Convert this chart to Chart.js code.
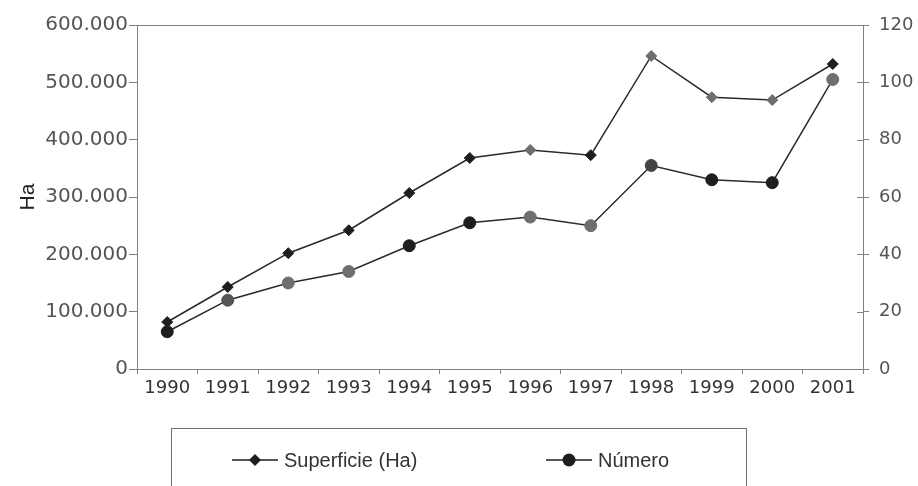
<!DOCTYPE html>
<html>
<head>
<meta charset="utf-8">
<script src="https://cdn.jsdelivr.net/npm/chart.js"></script>
<style>
  html, body { margin: 0; padding: 0; background: #fff; }
  #wrap { width: 918px; height: 486px; }
</style>
</head>
<body>
<div id="wrap"><canvas id="chart" width="918" height="486"></canvas></div>
<script>
// data
const years = ['1990', '1991', '1992', '1993', '1994', '1995', '1996', '1997', '1998', '1999', '2000', '2001'];
const superficie = [82000, 143000, 202000, 242000, 307000, 368000, 382000, 373000, 546000, 474000, 469000, 532000];
const numero = [13, 24, 30, 34, 43, 51, 53, 50, 71, 66, 65, 101];
const seriesNames = ['Superficie (Ha)', 'Número'];

// scan look: some markers print lighter
const dark = '#1e1e1e';
const grey = '#6e6e6e';
const supColors = [dark, dark, dark, dark, dark, dark, grey, dark, grey, grey, grey, dark];
const numColors = [dark, '#555', grey, grey, dark, dark, grey, grey, '#444', dark, dark, grey];

const axisColor = '#808080';
const tickFont = { family: 'DejaVu Sans', size: 18 };

function fmt(v) {
    return String(v).replace(/\B(?=(\d{3})+(?!\d))/g, '.');
}

// frame top line + small inner ticks on the right axis
const framePlugin = {
    id: 'frame',
    afterDraw(chart) {
        const { ctx, chartArea } = chart;
        ctx.save();
        ctx.strokeStyle = axisColor;
        ctx.lineWidth = 1;
        ctx.beginPath();
        ctx.moveTo(chartArea.left, chartArea.top + 0.5);
        ctx.lineTo(chartArea.right, chartArea.top + 0.5);
        const y2 = chart.scales.y2;
        y2.ticks.forEach(t => {
            const py = Math.round(y2.getPixelForValue(t.value)) + 0.5;
            ctx.moveTo(chartArea.right - 6, py);
            ctx.lineTo(chartArea.right, py);
        });
        ctx.stroke();
        ctx.restore();
    }
};

// boxed legend under the plot
const legendBox = { left: 171, top: 428, right: 746 };
const legendItemX = [232, 546];
const legendY = 460;

function marker(ctx, style, x, y, r, color) {
    ctx.fillStyle = color;
    ctx.beginPath();
    if (style === 'rectRot') {
        ctx.moveTo(x, y - r);
        ctx.lineTo(x + r, y);
        ctx.lineTo(x, y + r);
        ctx.lineTo(x - r, y);
        ctx.closePath();
    } else {
        ctx.arc(x, y, r, 0, Math.PI * 2);
    }
    ctx.fill();
}

const legendPlugin = {
    id: 'boxLegend',
    afterDraw(chart) {
        const ctx = chart.ctx;
        ctx.save();
        ctx.strokeStyle = '#707070';
        ctx.lineWidth = 1;
        ctx.strokeRect(legendBox.left + 0.5, legendBox.top + 0.5, legendBox.right - legendBox.left, 80);
        chart.data.datasets.forEach((ds, i) => {
            const x = legendItemX[i];
            ctx.strokeStyle = dark;
            ctx.lineWidth = 1.5;
            ctx.beginPath();
            ctx.moveTo(x, legendY);
            ctx.lineTo(x + 46, legendY);
            ctx.stroke();
            marker(ctx, ds.pointStyle, x + 23, legendY, ds.pointStyle === 'rectRot' ? 6 : 6.5, dark);
            ctx.fillStyle = '#333';
            ctx.font = '20px "Liberation Sans"';
            ctx.textBaseline = 'middle';
            ctx.fillText(ds.label, x + 52, legendY + 1);
        });
        ctx.restore();
    }
};

new Chart(document.getElementById('chart'), {
    type: 'line',
    data: {
        labels: years,
        datasets: [
            {
                label: seriesNames[0],
                data: superficie,
                yAxisID: 'y',
                borderColor: '#2a2a2a',
                borderWidth: 1.5,
                pointStyle: 'rectRot',
                pointRadius: 5.5,
                pointBackgroundColor: supColors,
                pointBorderColor: supColors,
                pointBorderWidth: 1,
                tension: 0
            },
            {
                label: seriesNames[1],
                data: numero,
                yAxisID: 'y2',
                borderColor: '#2a2a2a',
                borderWidth: 1.5,
                pointStyle: 'circle',
                pointRadius: 6,
                pointBackgroundColor: numColors,
                pointBorderColor: numColors,
                pointBorderWidth: 1,
                tension: 0
            }
        ]
    },
    options: {
        responsive: false,
        animation: false,
        layout: { padding: { top: 25, bottom: 77, left: 0, right: 0 } },
        plugins: {
            legend: { display: false },
            tooltip: { enabled: false }
        },
        scales: {
            x: {
                offset: true,
                grid: { offset: true, drawOnChartArea: false, tickLength: 5, color: axisColor },
                border: { color: axisColor },
                ticks: { color: '#333', font: tickFont, padding: 4, maxRotation: 0, autoSkip: false },
                afterFit: s => { s.height = 40; }
            },
            y: {
                position: 'left',
                min: 0,
                max: 600000,
                grid: { drawOnChartArea: false, tickLength: 8, color: axisColor },
                border: { color: axisColor },
                ticks: { stepSize: 100000, color: '#555', font: { family: 'DejaVu Sans', size: 20 }, padding: 1, callback: v => fmt(v) },
                title: { display: true, text: 'Ha', color: '#222', font: { family: 'Liberation Sans', size: 21 }, padding: { top: 16, bottom: 0 } },
                afterFit: s => { s.width = 137; }
            },
            y2: {
                position: 'right',
                min: 0,
                max: 120,
                grid: { drawOnChartArea: false, tickLength: 6, color: axisColor },
                border: { color: axisColor },
                ticks: { stepSize: 20, color: '#555', font: tickFont, padding: 10 },
                afterFit: s => { s.width = 55; }
            }
        }
    },
    plugins: [framePlugin, legendPlugin]
});
</script>
</body>
</html>
